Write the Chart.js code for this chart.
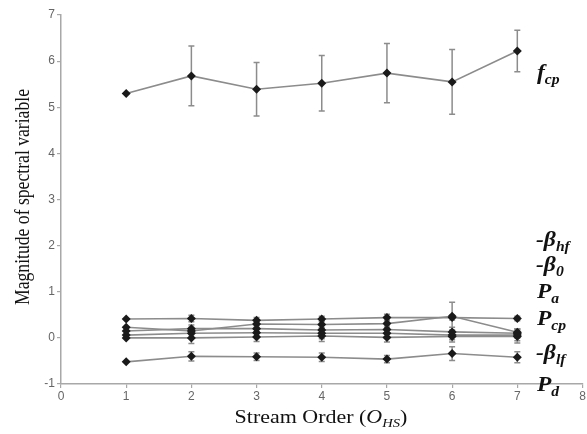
<!DOCTYPE html>
<html>
<head>
<meta charset="utf-8">
<script src="https://cdn.jsdelivr.net/npm/chart.js@4"></script>
<style>
  body { margin: 0; background: #fff; }
  #wrap { position: relative; width: 587px; height: 434px; }
  .lbl { position: absolute; font-family: "Liberation Serif", serif; font-weight: bold; font-style: italic; font-size: 21px; color: #111; line-height: 1; white-space: nowrap; transform-origin: 0 0; transform: scale(1.12, 1); }
  .lbl sub { font-size: 14px; vertical-align: -5px; }
  .ttl { position: absolute; font-family: "Liberation Serif", serif; font-size: 18px; color: #111; white-space: nowrap; line-height: 1; }
  .ttl sub { font-size: 12px; vertical-align: -4px; font-style: italic; }
</style>
</head>
<body>
<div id="wrap">
  <canvas id="myChart" width="587" height="434"></canvas>
  <div class="ttl" style="left:321px; top:418px; transform: translate(-50%,-50%) scale(1.22,1);">Stream Order (<i>O</i><sub>HS</sub>)</div>
  <div class="ttl" style="left:22px; top:197px; transform: translate(-50%,-50%) rotate(-90deg) scale(0.98,1.2);">Magnitude of spectral variable</div>
  <div class="lbl" style="left:537px; top:62px;">f<sub>cp</sub></div>
  <div class="lbl" style="left:536px; top:229px;">-β<sub>hf</sub></div>
  <div class="lbl" style="left:536px; top:254px;">-β<sub>0</sub></div>
  <div class="lbl" style="left:537px; top:281px;">P<sub>a</sub></div>
  <div class="lbl" style="left:537px; top:308px;">P<sub>cp</sub></div>
  <div class="lbl" style="left:536px; top:342px;">-β<sub>lf</sub></div>
  <div class="lbl" style="left:537px; top:374px;">P<sub>d</sub></div>
</div>
<script>
// stream orders and values
const orders = [1, 2, 3, 4, 5, 6, 7];
const xTicks = [0, 1, 2, 3, 4, 5, 6, 7, 8];
const yTicks = [-1, 0, 1, 2, 3, 4, 5, 6, 7];

const fcp = [5.3, 5.68, 5.39, 5.52, 5.74, 5.55, 6.22];
const fcpErr = [0, 0.65, 0.58, 0.6, 0.64, 0.7, 0.45];

const lineA = [0.41, 0.42, 0.38, 0.41, 0.44, 0.44, 0.42];
const lineAErr = [0, 0.07, 0.06, 0.06, 0.07, 0.05, 0.05];
const lineB = [0.23, 0.15, 0.3, 0.29, 0.31, 0.47, 0.12];
const lineBErr = [0, 0.08, 0.07, 0.08, 0.08, 0.3, 0.08];
const lineC = [0.15, 0.2, 0.2, 0.17, 0.18, 0.13, 0.1];
const lineCErr = [0, 0.08, 0.07, 0.1, 0.08, 0.1, 0.1];
const lineD = [0.06, 0.1, 0.11, 0.1, 0.1, 0.06, 0.06];
const lineDErr = [0, 0.1, 0.08, 0.12, 0.08, 0.1, 0.12];
const lineE = [0.0, 0.0, 0.02, 0.04, 0.01, 0.03, 0.03];
const lineEErr = [0, 0.12, 0.1, 0.12, 0.1, 0.12, 0.14];
const pd = [-0.52, -0.4, -0.41, -0.42, -0.46, -0.34, -0.42];
const pdErr = [0, 0.1, 0.08, 0.09, 0.08, 0.15, 0.12];

const series = [
  [fcp, fcpErr], [lineA, lineAErr], [lineB, lineBErr], [lineC, lineCErr],
  [lineD, lineDErr], [lineE, lineEErr], [pd, pdErr]
];

// error bars drawn from the scales
const errorBars = {
  id: "errorBars",
  beforeDatasetsDraw(chart) {
    const ctx = chart.ctx;
    const xs = chart.scales.x, ys = chart.scales.y;
    ctx.save();
    ctx.strokeStyle = "#8c8c8c";
    ctx.lineWidth = 1.5;
    chart.data.datasets.forEach(ds => {
      ds.data.forEach((p, i) => {
        const e = ds.err[i];
        if (!e) return;
        const px = xs.getPixelForValue(p.x);
        const top = ys.getPixelForValue(p.y + e);
        const bot = ys.getPixelForValue(p.y - e);
        ctx.beginPath();
        ctx.moveTo(px, top); ctx.lineTo(px, bot);
        ctx.moveTo(px - 3, top); ctx.lineTo(px + 3, top);
        ctx.moveTo(px - 3, bot); ctx.lineTo(px + 3, bot);
        ctx.stroke();
      });
    });
    ctx.restore();
  }
};

const ctx = document.getElementById("myChart");
new Chart(ctx, {
  type: "line",
  data: {
    datasets: series.map(([vals, err]) => ({
      data: orders.map((o, i) => ({ x: o, y: vals[i] })),
      err: err,
      borderColor: "#8c8c8c",
      borderWidth: 1.6,
      pointStyle: "rectRot",
      pointRadius: 4.5,
      pointBackgroundColor: "#1a1a1a",
      pointBorderColor: "#1a1a1a",
      pointBorderWidth: 0,
      tension: 0
    }))
  },
  options: {
    responsive: false,
    animation: false,
    layout: { padding: { top: 15, right: 4, left: 0, bottom: 0 } },
    plugins: { legend: { display: false }, tooltip: { enabled: false } },
    scales: {
      x: {
        type: "linear",
        min: 0, max: 8,
        afterBuildTicks: s => { s.ticks = xTicks.map(v => ({ value: v })); },
        afterFit: s => { s.height = 50; },
        grid: { drawOnChartArea: false, drawTicks: true, tickLength: 4, color: "#a8a8a8", lineWidth: 1.2 },
        border: { color: "#a8a8a8", width: 1.5 },
        ticks: { color: "#666", font: { family: "Liberation Sans", size: 12 }, padding: 1 }
      },
      y: {
        min: -1, max: 7,
        afterBuildTicks: s => { s.ticks = yTicks.map(v => ({ value: v })); },
        afterFit: s => { s.width = 61; },
        grid: { drawOnChartArea: false, drawTicks: true, tickLength: 4, color: "#a8a8a8", lineWidth: 1.2 },
        border: { color: "#a8a8a8", width: 1.5 },
        ticks: { color: "#666", font: { family: "Liberation Sans", size: 12 }, padding: 2 }
      }
    }
  },
  plugins: [errorBars]
});
</script>
</body>
</html>
